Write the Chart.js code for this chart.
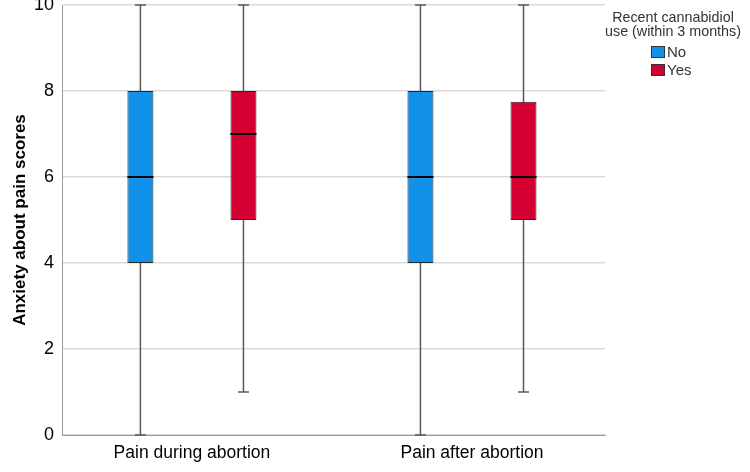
<!DOCTYPE html>
<html>
<head>
<meta charset="utf-8">
<script src="https://cdn.jsdelivr.net/npm/chart.js@4"></script>
<style>
  html, body { margin: 0; padding: 0; background: #fff; }
  #wrap { width: 750px; height: 472px; }
</style>
</head>
<body>
<div id="wrap"><canvas id="chart" width="750" height="472"></canvas></div>
<script>
// categories + five-number summaries
const categories = ['Pain during abortion', 'Pain after abortion'];
const groupLabels = ['No', 'Yes'];

const noMin = [0, 0];
const noQ1 = [4, 4];
const noMedian = [6, 6];
const noQ3 = [8, 8];
const noMax = [10, 10];

const yesMin = [1, 1];
const yesQ1 = [5, 5];
const yesMedian = [7, 6];
const yesQ3 = [8, 7.75];
const yesMax = [10, 10];

const yTicks = [0, 2, 4, 6, 8, 10];

const FONT = '"Liberation Sans", Arial, sans-serif';

// whiskers under the boxes, medians on top
const boxPlotPlugin = {
  id: 'boxPlot',
  beforeDatasetsDraw(chart) {
    const ctx = chart.ctx;
    const y = chart.scales.y;
    ctx.save();
    ctx.strokeStyle = '#595959';
    ctx.lineWidth = 1.5;
    chart.data.datasets.forEach((ds, di) => {
      const meta = chart.getDatasetMeta(di);
      meta.data.forEach((bar, i) => {
        const top = y.getPixelForValue(ds.whiskerMax[i]);
        const bot = y.getPixelForValue(ds.whiskerMin[i]);
        ctx.beginPath();
        ctx.moveTo(bar.x, top);
        ctx.lineTo(bar.x, bot);
        ctx.moveTo(bar.x - 5.5, top);
        ctx.lineTo(bar.x + 5.5, top);
        ctx.moveTo(bar.x - 5.5, bot);
        ctx.lineTo(bar.x + 5.5, bot);
        ctx.stroke();
      });
    });
    ctx.restore();
  },
  afterDatasetsDraw(chart) {
    const ctx = chart.ctx;
    const y = chart.scales.y;
    ctx.save();
    ctx.strokeStyle = '#000';
    ctx.lineWidth = 2;
    chart.data.datasets.forEach((ds, di) => {
      const meta = chart.getDatasetMeta(di);
      meta.data.forEach((bar, i) => {
        const py = y.getPixelForValue(ds.median[i]);
        const half = bar.width / 2;
        ctx.beginPath();
        ctx.moveTo(bar.x - half, py);
        ctx.lineTo(bar.x + half, py);
        ctx.stroke();
      });
    });
    ctx.restore();
  }
};

// legend with a two-line title, like the SPSS one
const sideLegend = {
  id: 'sideLegend',
  afterDraw(chart) {
    const ctx = chart.ctx;
    const cx = 673;
    ctx.save();
    ctx.fillStyle = '#333';
    ctx.font = '14.3px ' + FONT;
    ctx.textAlign = 'center';
    ctx.textBaseline = 'middle';
    ctx.fillText('Recent cannabidiol', cx, 18);
    ctx.fillText('use (within 3 months)', cx, 32);
    ctx.textAlign = 'left';
    ctx.font = '15px ' + FONT;
    chart.data.datasets.forEach((ds, i) => {
      const yy = 52 + i * 18;
      ctx.fillStyle = ds.backgroundColor;
      ctx.fillRect(651, yy - 6, 14, 12);
      ctx.strokeStyle = '#333';
      ctx.lineWidth = 1;
      ctx.strokeRect(651.5, yy - 5.5, 13, 11);
      ctx.fillStyle = '#333';
      ctx.fillText(ds.label, 667, yy + 1);
    });
    ctx.restore();
  }
};

new Chart(document.getElementById('chart'), {
  type: 'bar',
  data: {
    datasets: [
      {
        label: groupLabels[0],
        data: noQ1.map((q, i) => ({ x: i, y: [q, noQ3[i]] })),
        whiskerMin: noMin,
        whiskerMax: noMax,
        median: noMedian,
        backgroundColor: '#1192e8',
        borderColor: '#262626',
        borderWidth: 1,
        borderSkipped: false
      },
      {
        label: groupLabels[1],
        data: yesQ1.map((q, i) => ({ x: i, y: [q, yesQ3[i]] })),
        whiskerMin: yesMin,
        whiskerMax: yesMax,
        median: yesMedian,
        backgroundColor: '#d50032',
        borderColor: '#262626',
        borderWidth: 1,
        borderSkipped: false
      }
    ]
  },
  options: {
    responsive: false,
    animation: false,
    devicePixelRatio: 1,
    categoryPercentage: 0.736,
    barPercentage: 0.252,
    layout: { padding: { top: 5, right: 145, left: 0, bottom: 0 } },
    scales: {
      x: {
        type: 'linear',
        offset: false,
        min: -0.464,
        max: 1.475,
        afterBuildTicks(scale) { scale.ticks = categories.map((c, i) => ({ value: i })); },
        grid: { display: false, drawTicks: false, offset: false },
        border: { color: '#9a9a9a', width: 1 },
        ticks: {
          color: '#000',
          font: { family: FONT, size: 17.5 },
          padding: 8,
          maxRotation: 0,
          callback: (v) => categories[v]
        },
        afterFit(scale) {
          scale.height = 37;
          scale.paddingLeft = 0;
          scale.paddingRight = 0;
        }
      },
      y: {
        min: 0,
        max: 10,
        afterBuildTicks(scale) { scale.ticks = yTicks.map(v => ({ value: v })); },
        grid: { color: '#d9d9d9', lineWidth: 1.5, drawTicks: false },
        border: { color: '#9a9a9a', width: 1 },
        ticks: {
          color: '#000',
          font: { family: FONT, size: 18 },
          padding: 8
        },
        title: {
          display: true,
          text: 'Anxiety about pain scores',
          color: '#000',
          font: { family: FONT, size: 17, weight: 'bold' },
          padding: { top: 10, bottom: 0 }
        },
        afterFit(scale) {
          scale.width = 62;
          scale.paddingTop = 0;
          scale.paddingBottom = 0;
        }
      }
    },
    plugins: {
      legend: { display: false },
      tooltip: { enabled: false }
    }
  },
  plugins: [boxPlotPlugin, sideLegend]
});
</script>
</body>
</html>
